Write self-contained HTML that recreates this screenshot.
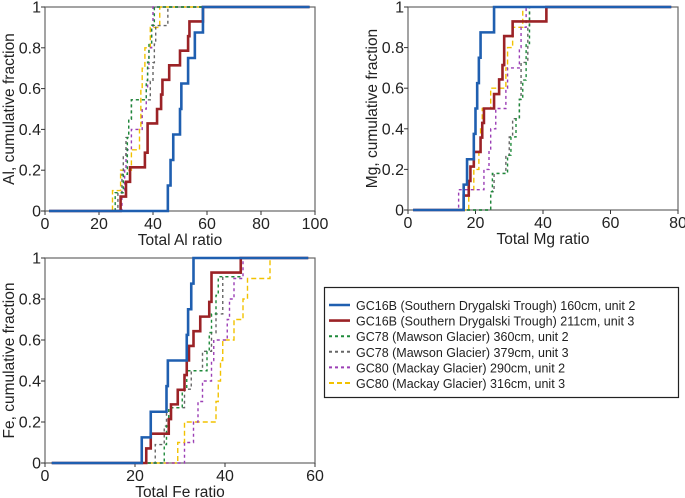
<!DOCTYPE html>
<html><head><meta charset="utf-8"><style>
body{margin:0;background:#fff;}
svg{display:block;font-family:"Liberation Sans",Arial,sans-serif;}
</style></head><body>
<svg id="chart" width="685" height="498" xmlns="http://www.w3.org/2000/svg">
<g id="legend">
<rect x="324.5" y="287.5" width="354" height="110" fill="#fff" stroke="#222" stroke-width="1.2"/>
</g>
</svg>
<script>
const seriesNames=["GC16B (Southern Drygalski Trough) 160cm, unit 2","GC16B (Southern Drygalski Trough) 211cm, unit 3","GC78 (Mawson Glacier) 360cm, unit 2","GC78 (Mawson Glacier) 379cm, unit 3","GC80 (Mackay Glacier) 290cm, unit 2","GC80 (Mackay Glacier) 316cm, unit 3"];
const colors=["#1f5fb0","#9b2226","#1e8a3a","#666666","#9b3fb5","#f2c200"];
const dashes=["","","3,3","3,3","3,3","5,3"];
const widths=[2.6,2.6,1.4,1.4,1.4,1.4];
// Al panel: step x values and cumulative levels
const alX=[[45.5,46.5,47.5,50,50.5,53,55.5,58.5],
[28,30,31.5,37,38,41.5,43,43.5,46,50,53,53.5,58.5],
[26,29,30.5,31,32,37.5,38,38.5,39.5,40.5],
[27,28.5,29,30,31,32,39,40,40.5,41,45.5],
[28.5,29.5,30,32,36,37.5,38,38.5,39.5,40],
[25,28,32,35,35.5,36,37,39,42.5]];
const alY=[[0.125,0.25,0.375,0.5,0.625,0.75,0.875,1],
[0.071,0.143,0.214,0.286,0.429,0.5,0.571,0.643,0.714,0.786,0.857,0.929,1],
[0.09,0.18,0.36,0.45,0.545,0.64,0.73,0.82,0.91,1],
[0.09,0.18,0.27,0.36,0.45,0.545,0.636,0.727,0.818,0.909,1],
[0.1,0.2,0.3,0.4,0.5,0.6,0.7,0.8,0.9,1],
[0.1,0.2,0.3,0.4,0.6,0.7,0.8,0.9,1]];
const mgX=[[16.5,17.5,19.5,20,20.5,21,21.5,25.5],
[16.5,18,18.5,19.5,21.5,22,22.5,25.5,27,28,28.5,31,41],
[24.5,25,29.5,30.5,32,33,34,35,36],
[24.5,25.5,29,30,31,33,33.5,35.5,36],
[15,22.5,24,24.5,26,29,29.5,33,33.5,35],
[18,19.5,21,21.5,22,24.5,29,29.5,31,34]];
const mgY=[[0.125,0.25,0.375,0.5,0.625,0.75,0.875,1],
[0.071,0.143,0.214,0.286,0.357,0.429,0.5,0.571,0.643,0.714,0.857,0.929,1],
[0.09,0.18,0.27,0.36,0.45,0.545,0.64,0.82,1],
[0.09,0.18,0.27,0.36,0.45,0.545,0.727,0.909,1],
[0.1,0.2,0.3,0.4,0.5,0.6,0.7,0.8,0.9,1],
[0.1,0.2,0.3,0.4,0.5,0.6,0.7,0.8,0.9,1]];
const feX=[[21.5,23.5,27,27.3,31.5,31.8,32.5,33],
[22.5,23.5,27.5,28,29.5,31,31.5,32,33,34.5,36.5,37,43.5],
[26.5,27,27.5,30.5,31.5,36,36.5,37,38,38.5,43.5],
[24.5,26.5,27,31,32.5,35,37,38,39.5,43.5],
[31,33,34,35,37,37.5,40.5,41,42,44],
[29.5,31,38,38.5,39,39.5,42,44,45,50]];
const feY=[[0.125,0.25,0.375,0.5,0.625,0.75,0.875,1],
[0.071,0.143,0.214,0.286,0.357,0.429,0.5,0.571,0.643,0.714,0.786,0.929,1],
[0.09,0.18,0.27,0.36,0.45,0.545,0.636,0.727,0.818,0.909,1],
[0.09,0.18,0.27,0.36,0.45,0.545,0.636,0.727,0.909,1],
[0.1,0.2,0.3,0.4,0.5,0.6,0.7,0.8,0.9,1],
[0.1,0.2,0.3,0.4,0.5,0.6,0.7,0.8,0.9,1]];
const yTicks=[0,0.2,0.4,0.6,0.8,1];
const yTickLabels=["0","0.2","0.4","0.6","0.8","1"];
const alTicks=[0,20,40,60,80,100];
const mgTicks=[0,20,40,60,80];
const feTicks=[0,20,40,60];

const NS="http://www.w3.org/2000/svg";
const svg=document.getElementById('chart');
function mk(tag,attrs,parent){const e=document.createElementNS(NS,tag);for(const k in attrs)e.setAttribute(k,attrs[k]);(parent||svg).appendChild(e);return e;}

function panel(name,x0,x1,y0,y1,xmax,xStart,xEnd,ticks,xs,ys,xTitle,yTitle){
  const g=mk('g',{});
  
  
  const sx=v=>x0+(x1-x0)*v/xmax, sy=v=>y0+(y1-y0)*v;
  const frame=mk('rect',{x:x0,y:y1,width:x1-x0,height:y0-y1,fill:'none',stroke:'#666','stroke-width':1.2},g);
  
  
  yTicks.forEach((t,i)=>{
    const y=sy(t);
    mk('line',{x1:x0-4,x2:x0,y1:y,y2:y,stroke:'#333'},g);
    const tx=mk('text',{x:x0-4,y:y+5.5,'text-anchor':'end','font-size':16,fill:'#222'},g);
    tx.textContent=yTickLabels[i];
    
    
  });
  ticks.forEach(t=>{
    const x=sx(t);
    mk('line',{x1:x,x2:x,y1:y0,y2:y0+4,stroke:'#333'},g);
    const tx=mk('text',{x:x,y:y0+18,'text-anchor':'middle','font-size':16,fill:'#222'},g);
    tx.textContent=String(t);
    
    
  });
  const xt=mk('text',{x:(x0+x1)/2,y:y0+34,'text-anchor':'middle','font-size':15.5,fill:'#222'},g);
  xt.textContent=xTitle;
  
  
  const yt=mk('text',{x:0,y:0,'text-anchor':'middle','font-size':15.5,fill:'#222',transform:`translate(${x0-31},${(y0+y1)/2}) rotate(-90)`},g);
  yt.textContent=yTitle;
  
  
  for(let s=xs.length-1;s>=0;s--){
    let d=`M${sx(xStart)},${sy(0)}`;let prev=0;
    xs[s].forEach((xv,i)=>{d+=`L${sx(xv)},${sy(prev)}L${sx(xv)},${sy(ys[s][i])}`;prev=ys[s][i];});
    d+=`L${sx(xEnd)},${sy(prev)}`;
    const p=mk('path',{d:d,fill:'none',stroke:colors[s],'stroke-width':widths[s],'stroke-dasharray':dashes[s]},g);
    
    
  }
}
panel('al',45,315,211,7,100,1.5,98,alTicks,alX,alY,'Total Al ratio','Al, cumulative fraction');
panel('mg',408,678,210,7,80,1.5,78,mgTicks,mgX,mgY,'Total Mg ratio','Mg, cumulative fraction');
panel('fe',45,315,463,258,60,1.5,58.5,feTicks,feX,feY,'Total Fe ratio','Fe, cumulative fraction');

const lg=document.getElementById('legend');
seriesNames.forEach((n,i)=>{
  const y=305+i*15.6;
  const ln=mk('line',{x1:329,x2:350,y1:y,y2:y,stroke:colors[i],'stroke-width':i<2?2.6:2,'stroke-dasharray':dashes[i]},lg);
  
  
  const t=mk('text',{x:356,y:y+5,'font-size':12.5,fill:'#222'},lg);
  t.textContent=n;
  
  
});
</script>
</body></html>
